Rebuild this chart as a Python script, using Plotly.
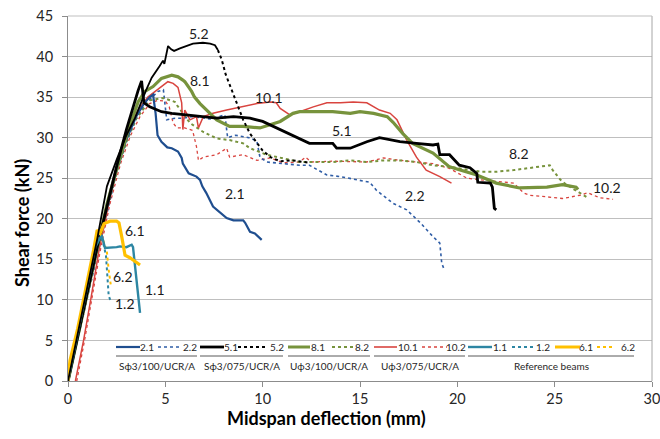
import plotly.graph_objects as go

# ---------------- data ----------------
x_21 = [0, 0.5, 1.0, 1.5, 2.0, 2.5, 3.0, 3.5, 3.9, 4.2, 4.37, 4.5, 4.6, 4.8, 5.1, 5.33, 5.65, 5.84, 5.9, 6.1, 6.2, 6.6, 6.78, 6.9, 7.1, 7.45, 7.8, 8.15, 8.5, 9.0, 9.1, 9.35, 9.6, 9.77, 9.95]
y_21 = [0, 5.5, 11, 16.5, 21.5, 26, 29.8, 32.6, 34.2, 35.0, 35.3, 33.0, 30.3, 29.5, 28.8, 28.7, 28.3, 27.5, 26.8, 26.0, 25.6, 25.2, 24.8, 24.0, 23.2, 21.5, 20.8, 20.1, 19.8, 19.8, 19.5, 18.4, 18.2, 17.8, 17.4]

x_22 = [0, 0.5, 1.0, 1.5, 2.0, 2.5, 3.0, 3.5, 4.0, 4.62, 4.9, 4.98, 5.07, 5.5, 5.9, 6.4, 7.3, 8.06, 8.15, 8.2, 8.6, 9.3, 9.7, 9.86, 10.2, 11.0, 11.9, 12.4, 13.3, 14.0, 14.85, 15.5, 15.85, 16.7, 17.4, 18.1, 18.75, 19.1, 19.2, 19.3]
y_22 = [0, 5.2, 10.5, 15.8, 21, 25.8, 29.5, 32.3, 34.2, 35.7, 35.9, 34.4, 32.2, 32.4, 32.4, 32.6, 32.3, 32.8, 30.5, 30.0, 30.3, 30.0, 29.6, 27.6, 27.0, 26.8, 26.6, 26.6, 25.4, 25.2, 24.8, 24.5, 23.5, 21.9, 21.1, 19.5, 17.8, 17.0, 14.5, 13.9]

x_51 = [0, 0.5, 1.0, 1.5, 2.0, 2.5, 3.0, 3.4, 3.6, 3.78, 3.9, 4.2, 4.8, 5.33, 6.0, 6.78, 7.64, 8.5, 9.35, 10.0, 10.7, 11.05, 11.56, 12.4, 13.6, 13.8, 14.5, 15.35, 16.0, 17.05, 17.9, 18.75, 19.0, 19.1, 19.6, 20.1, 20.65, 21.0, 21.05, 21.7, 21.8, 21.9, 22.0]
y_51 = [0, 5.5, 11, 16.5, 21.5, 26.5, 31, 34.3, 35.8, 37.0, 34.3, 33.8, 33.2, 33.0, 32.8, 32.6, 32.4, 32.6, 32.4, 32.0, 31.2, 30.9, 30.3, 29.3, 29.3, 28.7, 28.7, 29.5, 30.0, 29.5, 29.3, 29.1, 29.2, 27.9, 27.9, 26.6, 26.3, 25.6, 24.5, 24.4, 23.9, 21.3, 21.1]

x_52 = [0, 0.5, 1.0, 1.5, 2.0, 2.5, 3.0, 3.44, 4.0, 4.3, 4.7, 4.88, 4.95, 5.14, 5.3, 5.45, 5.75, 6.0, 6.42, 6.93, 7.3, 7.55, 7.7,
        7.9, 8.1, 8.3, 8.66, 9.0, 9.35, 9.7, 10.0, 10.4, 10.9, 11.56, 12.4]
y_52 = [0, 5.8, 11.5, 17.5, 24.0, 27.3, 30.3, 32.4, 35.8, 37.4, 38.8, 39.5, 39.1, 41.3, 40.9, 40.7, 41.0, 41.2, 41.6, 41.7, 41.6, 41.4, 40.8,
        39.6, 37.8, 36.5, 34.2, 32.2, 30.5, 29.3, 28.4, 27.6, 27.1, 27.2, 26.9]
n_52_dense = 23  # points recorded densely (render solid), the rest are sparse

x_81 = [0, 0.5, 1.0, 1.5, 2.0, 2.6, 3.0, 3.6, 3.95, 4.37, 4.8, 5.33, 5.65, 5.9, 6.0, 6.35, 6.5, 6.78, 7.12, 7.64, 8.3, 9.0, 9.86, 10.4, 10.9, 11.56, 11.9, 12.8, 13.6, 14.5, 15.0, 15.7, 16.4, 16.7, 17.2, 17.7, 18.75, 19.6, 21.0, 22.0, 23.2, 24.6, 25.4, 26.1, 26.2]
y_81 = [0, 5.5, 11, 16.5, 21.8, 27, 30.2, 34.4, 35.7, 36.3, 37.3, 37.7, 37.5, 37.1, 36.9, 35.7, 35.0, 34.2, 33.4, 32.2, 31.4, 31.4, 31.2, 31.6, 32.0, 33.0, 33.2, 33.2, 33.2, 33.0, 33.2, 33.0, 32.6, 31.9, 30.5, 29.3, 28.1, 26.4, 25.4, 24.4, 23.8, 23.9, 24.2, 23.9, 23.6]

x_82 = [0, 0.5, 1.0, 1.5, 2.0, 2.5, 3.0, 3.5, 4.2, 4.9, 5.5, 5.6, 6.27, 6.95, 7.64, 8.3, 9.0, 9.35, 10.2, 10.9, 11.9, 13.6, 14.5, 15.35, 16.2, 17.05, 17.9, 18.75, 19.6, 21.2, 22.0, 22.9, 23.7, 24.75, 24.9, 25.3, 25.6, 26.3, 26.7]
y_82 = [0, 5.5, 11, 16.3, 21.3, 25.8, 29.5, 32.3, 34.6, 34.9, 34.4, 34.0, 31.8, 30.7, 29.9, 29.7, 29.3, 28.7, 27.9, 27.5, 27.0, 27.0, 27.2, 27.0, 27.2, 27.2, 27.0, 26.6, 26.4, 25.8, 25.8, 26.0, 26.3, 26.6, 26.0, 24.8, 24.2, 23.2, 22.6]

x_101 = [0.38, 0.8, 1.2, 1.6, 2.1, 2.6, 3.1, 3.6, 4.1, 4.62, 5.13, 5.4, 5.65, 5.84, 5.9, 6.0, 6.27, 6.6, 6.7, 6.95, 7.45, 8.15, 9.0, 9.7, 10.4, 10.7, 10.9, 11.4, 11.9, 12.6, 13.3, 14.0, 14.65, 15.35, 16.0, 16.55, 16.9, 17.4, 17.9, 18.4, 19.1, 19.7]
y_101 = [0, 5, 10.5, 16.2, 22, 27, 30.8, 33.4, 35.0, 36.0, 36.9, 36.7, 36.2, 34.3, 31.0, 33.4, 32.2, 32.6, 31.2, 32.6, 33.0, 33.4, 33.8, 34.2, 34.4, 34.3, 33.6, 32.8, 33.2, 33.8, 34.3, 34.3, 34.4, 34.3, 33.4, 33.0, 32.2, 29.7, 27.6, 26.0, 25.2, 24.4]

x_102 = [0.45, 0.85, 1.25, 1.65, 2.15, 2.7, 3.2, 3.7, 4.2, 4.6, 5.0, 5.2, 5.4, 5.6, 6.0, 6.4, 6.6, 6.7, 6.95, 7.64, 8.15, 8.3, 9.0, 9.35, 9.7, 10.4, 11.05, 11.9, 12.2, 12.5, 13.6, 15.35, 16.2, 17.05, 18.0, 18.75, 19.6, 20.5, 21.2, 22.2, 22.9, 23.4, 23.7, 24.6, 25.4, 26.3, 26.7, 27.3, 28.0]
y_102 = [0, 5, 10.5, 16, 21.8, 26.8, 30.2, 32.6, 34.2, 34.6, 34.5, 33.8, 31.8, 31.2, 31.2, 30.9, 28.9, 27.2, 27.6, 27.9, 28.7, 27.6, 27.9, 27.5, 27.2, 27.5, 26.9, 27.0, 27.6, 27.0, 27.1, 27.0, 27.5, 27.2, 27.0, 26.8, 26.2, 25.0, 24.8, 24.6, 24.4, 23.2, 22.9, 22.7, 22.5, 22.9, 23.2, 22.6, 22.4]

x_11 = [0, 0.5, 1.0, 1.4, 1.73, 1.9, 2.5, 2.67, 3.0, 3.27, 3.34, 3.53, 3.7]
y_11 = [0, 6, 12, 16.5, 18.0, 16.4, 16.5, 16.6, 16.5, 16.8, 16.5, 12.5, 8.4]

x_12 = [0, 0.5, 1.0, 1.4, 1.64, 1.8, 1.95, 2.0, 2.09, 2.17]
y_12 = [0, 6, 12, 16.5, 18.2, 17.1, 15.5, 13.5, 10.5, 10.0]

x_61 = [0, 0.1, 0.5, 1.0, 1.32, 1.5, 1.65, 1.85, 2.16, 2.5, 2.62, 2.76, 2.93, 3.18, 3.44, 3.7]
y_61 = [0, 2.5, 6.5, 12.2, 16.2, 18.6, 18.2, 19.4, 19.7, 19.7, 19.5, 17.8, 15.5, 15.2, 14.7, 14.3]

x_62 = [0, 0.5, 1.0, 1.4, 1.64, 1.8, 1.99, 2.09, 2.2]
y_62 = [0, 6.2, 12, 17, 18.4, 17.4, 16.1, 13.7, 11.8]

x_ticks = [0, 5, 10, 15, 20, 25, 30]
y_ticks = [0, 5, 10, 15, 20, 25, 30, 35, 40, 45]

# curve labels: (text, x, y)
curve_labels = [("5.2", 6.73, 42.9), ("8.1", 6.78, 37.1), ("10.1", 10.3, 35.0), ("5.1", 14.07, 30.9),
                ("2.1", 8.6, 23.1), ("2.2", 17.85, 22.9), ("8.2", 23.16, 28.0), ("10.2", 27.7, 23.8),
                ("6.1", 3.45, 18.6), ("1.1", 4.47, 11.3), ("6.2", 2.8, 12.9), ("1.2", 2.95, 9.6)]

x_title = "Midspan deflection (mm)"
y_title = "Shear force (kN)"

# ---------------- styles ----------------
FONT = "Lato"
C_BLUE = "#1F4E8F"
C_BLUE_D = "#2F5DA6"
C_BLACK = "#000000"
C_GREEN = "#77933C"
C_RED = "#D9443F"
C_TEAL = "#2D86A3"
C_YELLOW = "#FFC000"

series = [
    # name, x, y, color, width, dash
    ("10.2", x_102, y_102, C_RED, 1.3, "dot"),
    ("2.2", x_22, y_22, C_BLUE_D, 1.6, "dot"),
    ("8.2", x_82, y_82, C_GREEN, 2.0, "dot"),
    ("10.1", x_101, y_101, C_RED, 1.5, "solid"),
    ("2.1", x_21, y_21, C_BLUE, 2.2, "solid"),
    ("8.1", x_81, y_81, C_GREEN, 3.2, "solid"),
    ("5.1", x_51, y_51, C_BLACK, 2.8, "solid"),
    ("1.2", x_12, y_12, C_TEAL, 2.0, "dot"),
    ("6.2", x_62, y_62, C_YELLOW, 2.0, "dot"),
    ("1.1", x_11, y_11, C_TEAL, 2.4, "solid"),
    ("6.1", x_61, y_61, C_YELLOW, 3.2, "solid"),
]

fig = go.Figure()
for name, xs, ys, col, w, dash in series:
    fig.add_trace(go.Scatter(x=xs, y=ys, mode="lines", name=name, showlegend=False,
                             line=dict(color=col, width=w, dash=dash), hoverinfo="skip"))

# 5.2: dense part drawn solid, sparse part dotted
fig.add_trace(go.Scatter(x=x_52[:n_52_dense], y=y_52[:n_52_dense], mode="lines", showlegend=False,
                         line=dict(color=C_BLACK, width=1.8), hoverinfo="skip"))
fig.add_trace(go.Scatter(x=x_52[n_52_dense - 1:], y=y_52[n_52_dense - 1:], mode="lines", showlegend=False,
                         line=dict(color=C_BLACK, width=2.0, dash="dot"), hoverinfo="skip"))

# page body margin is removed by a post script, so the figure fills the window
W, H = 660, 439
PL, PR, PT, PB = 68, 652, 16, 381  # plot area in page pixels
L, T = PL, PT
R, B = W - PR, H - PB
PW, PH = PR - PL, PB - PT


def px(xp):
    return (xp - PL) / PW


def py(yp):
    return (PB - yp) / PH


annotations = []
for txt, xv, yv in curve_labels:
    annotations.append(dict(x=xv, y=yv, xref="x", yref="y", text=txt, showarrow=False,
                            xanchor="center", yanchor="middle",
                            font=dict(family=FONT, size=14, color="#1a1a1a")))

# axis titles
annotations.append(dict(x=px(326), y=py(418), xref="paper", yref="paper", text=x_title, showarrow=False,
                        xanchor="center", yanchor="middle",
                        font=dict(family=FONT, size=18, color="#000000", weight="bold")))
annotations.append(dict(x=px(22), y=py(223), xref="paper", yref="paper", text=y_title, showarrow=False,
                        textangle=-90, xanchor="center", yanchor="middle",
                        font=dict(family=FONT, size=18, color="#000000", weight="bold")))

# ---------------- custom grouped legend inside the plot ----------------
shapes = []
legend_entries = [
    # x0, x1 (page px), colour, width, dash, label, label centre x
    (116, 140, C_BLUE, 2.2, "solid", "2.1", 147),
    (158, 181, C_BLUE_D, 1.6, "dot", "2.2", 190),
    (200, 224, C_BLACK, 2.8, "solid", "5.1", 231),
    (238, 268, C_BLACK, 2.0, "dot", "5.2", 277),
    (288, 310, C_GREEN, 3.0, "solid", "8.1", 318),
    (332, 353, C_GREEN, 2.0, "dot", "8.2", 362),
    (374, 397, C_RED, 1.6, "solid", "10.1", 408),
    (422, 447, C_RED, 1.3, "dot", "10.2", 456),
    (468, 492, C_TEAL, 2.4, "solid", "1.1", 500),
    (512, 533, C_TEAL, 2.0, "dot", "1.2", 543),
    (555, 580, C_YELLOW, 3.0, "solid", "6.1", 586),
    (597, 614, C_YELLOW, 2.0, "dot", "6.2", 628),
]
LEG_Y = 347
for x0, x1, col, w, dash, lab, lx in legend_entries:
    shapes.append(dict(type="line", xref="paper", yref="paper", x0=px(x0), x1=px(x1),
                       y0=py(LEG_Y), y1=py(LEG_Y), line=dict(color=col, width=w, dash=dash)))
    annotations.append(dict(x=px(lx), y=py(LEG_Y), xref="paper", yref="paper", text=lab,
                            showarrow=False, xanchor="center", yanchor="middle",
                            font=dict(family=FONT, size=10, color="#262626")))

groups = [(116, 197, "Sϕ3/100/UCR/A"), (200, 283, "Sϕ3/075/UCR/A"), (288, 370, "Uϕ3/100/UCR/A"),
          (374, 465, "Uϕ3/075/UCR/A"), (468, 634, "Reference beams")]
for x0, x1, lab in groups:
    shapes.append(dict(type="line", xref="paper", yref="paper", x0=px(x0), x1=px(x1),
                       y0=py(356), y1=py(356), line=dict(color="#595959", width=1)))
    annotations.append(dict(x=px((x0 + x1) / 2), y=py(365.5), xref="paper", yref="paper", text=lab,
                            showarrow=False, xanchor="center", yanchor="middle",
                            font=dict(family=FONT, size=10, color="#262626")))

# right border and top line of plot area
shapes.append(dict(type="line", xref="paper", yref="paper", x0=1, x1=1, y0=0, y1=1,
                   line=dict(color="#A6A6A6", width=1)))
shapes.append(dict(type="line", xref="paper", yref="paper", x0=0, x1=1, y0=1, y1=1,
                   line=dict(color="#BFBFBF", width=1)))

fig.update_layout(
    width=W, height=H,
    margin=dict(l=L, r=R, t=T, b=B, pad=0, autoexpand=False),
    paper_bgcolor="white", plot_bgcolor="white",
    font=dict(family=FONT, color="#262626"),
    shapes=shapes, annotations=annotations,
    xaxis=dict(range=[0, 30], tickvals=x_ticks, showgrid=False, zeroline=False, automargin=False,
               showline=True, linecolor="#8C8C8C", linewidth=1, ticklabeloverflow="allow",
               ticks="outside", ticklen=5, tickcolor="#8C8C8C",
               tickfont=dict(family=FONT, size=14.5, color="#262626")),
    yaxis=dict(range=[0, 45], tickvals=y_ticks, showgrid=True, gridcolor="#BFBFBF", gridwidth=1,
               zeroline=False, showline=True, linecolor="#8C8C8C", linewidth=1, automargin=False,
               ticklabeloverflow="allow",
               ticks="outside", ticklen=5, tickcolor="#8C8C8C", ticklabelstandoff=6,
               tickfont=dict(family=FONT, size=14.5, color="#262626")),
)

PAGE_CSS_JS = ("document.documentElement.style.margin='0';document.body.style.margin='0';"
               "document.documentElement.style.overflow='hidden';document.body.style.overflow='hidden';")
fig.write_html("out.html", post_script=PAGE_CSS_JS, config={"displayModeBar": False})
